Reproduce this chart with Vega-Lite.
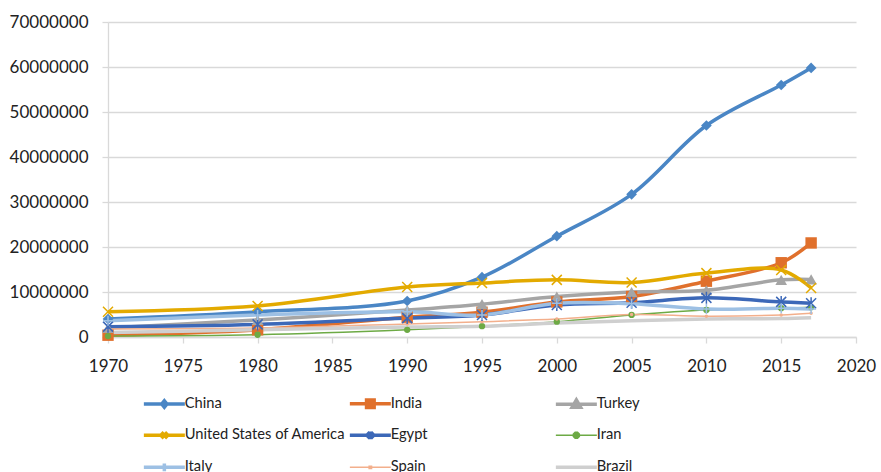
{
  "$schema": "https://vega.github.io/schema/vega-lite/v6.json",
  "width": 748,
  "height": 315,
  "autosize": {"type": "none"},
  "padding": {"left": 108, "top": 22, "right": 25, "bottom": 135},
  "background": "white",
  "config": {
    "view": {"stroke": null},
    "font": "Lato",
    "axis": {"labelFont": "Lato", "labelFontSize": 17, "labelColor": "#222222", "title": null}
  },
  "data": {"values": [
    {"country": "China", "year": 1970, "value": 4000000},
    {"country": "China", "year": 1980, "value": 5600000},
    {"country": "China", "year": 1990, "value": 8000000},
    {"country": "China", "year": 1995, "value": 13300000},
    {"country": "China", "year": 2000, "value": 22400000},
    {"country": "China", "year": 2005, "value": 31700000},
    {"country": "China", "year": 2010, "value": 47000000},
    {"country": "China", "year": 2015, "value": 56000000},
    {"country": "China", "year": 2017, "value": 59800000},
    {"country": "India", "year": 1970, "value": 400000},
    {"country": "India", "year": 1980, "value": 1600000},
    {"country": "India", "year": 1990, "value": 4400000},
    {"country": "India", "year": 1995, "value": 5500000},
    {"country": "India", "year": 2000, "value": 7800000},
    {"country": "India", "year": 2005, "value": 9000000},
    {"country": "India", "year": 2010, "value": 12400000},
    {"country": "India", "year": 2015, "value": 16500000},
    {"country": "India", "year": 2017, "value": 20900000},
    {"country": "Turkey", "year": 1970, "value": 2000000},
    {"country": "Turkey", "year": 1980, "value": 3800000},
    {"country": "Turkey", "year": 1990, "value": 6000000},
    {"country": "Turkey", "year": 1995, "value": 7300000},
    {"country": "Turkey", "year": 2000, "value": 9000000},
    {"country": "Turkey", "year": 2005, "value": 10000000},
    {"country": "Turkey", "year": 2010, "value": 10400000},
    {"country": "Turkey", "year": 2015, "value": 12700000},
    {"country": "Turkey", "year": 2017, "value": 12800000},
    {"country": "United States of America", "year": 1970, "value": 5600000},
    {"country": "United States of America", "year": 1980, "value": 6900000},
    {"country": "United States of America", "year": 1990, "value": 11100000},
    {"country": "United States of America", "year": 1995, "value": 12000000},
    {"country": "United States of America", "year": 2000, "value": 12700000},
    {"country": "United States of America", "year": 2005, "value": 12100000},
    {"country": "United States of America", "year": 2010, "value": 14200000},
    {"country": "United States of America", "year": 2015, "value": 14900000},
    {"country": "United States of America", "year": 2017, "value": 10900000},
    {"country": "Egypt", "year": 1970, "value": 2300000},
    {"country": "Egypt", "year": 1980, "value": 2800000},
    {"country": "Egypt", "year": 1990, "value": 4200000},
    {"country": "Egypt", "year": 1995, "value": 4900000},
    {"country": "Egypt", "year": 2000, "value": 7100000},
    {"country": "Egypt", "year": 2005, "value": 7600000},
    {"country": "Egypt", "year": 2010, "value": 8700000},
    {"country": "Egypt", "year": 2015, "value": 7800000},
    {"country": "Egypt", "year": 2017, "value": 7500000},
    {"country": "Iran", "year": 1970, "value": 200000},
    {"country": "Iran", "year": 1980, "value": 500000},
    {"country": "Iran", "year": 1990, "value": 1600000},
    {"country": "Iran", "year": 1995, "value": 2400000},
    {"country": "Iran", "year": 2000, "value": 3400000},
    {"country": "Iran", "year": 2005, "value": 4900000},
    {"country": "Iran", "year": 2010, "value": 6000000},
    {"country": "Iran", "year": 2015, "value": 6400000},
    {"country": "Iran", "year": 2017, "value": 6600000},
    {"country": "Italy", "year": 1970, "value": 3600000},
    {"country": "Italy", "year": 1980, "value": 4900000},
    {"country": "Italy", "year": 1990, "value": 5600000},
    {"country": "Italy", "year": 1995, "value": 4900000},
    {"country": "Italy", "year": 2000, "value": 7500000},
    {"country": "Italy", "year": 2005, "value": 7400000},
    {"country": "Italy", "year": 2010, "value": 6200000},
    {"country": "Italy", "year": 2015, "value": 6400000},
    {"country": "Italy", "year": 2017, "value": 6200000},
    {"country": "Spain", "year": 1970, "value": 1800000},
    {"country": "Spain", "year": 1980, "value": 2000000},
    {"country": "Spain", "year": 1990, "value": 2900000},
    {"country": "Spain", "year": 1995, "value": 3400000},
    {"country": "Spain", "year": 2000, "value": 4000000},
    {"country": "Spain", "year": 2005, "value": 5000000},
    {"country": "Spain", "year": 2010, "value": 4600000},
    {"country": "Spain", "year": 2015, "value": 4900000},
    {"country": "Spain", "year": 2017, "value": 5300000},
    {"country": "Brazil", "year": 1970, "value": 1000000},
    {"country": "Brazil", "year": 1980, "value": 1600000},
    {"country": "Brazil", "year": 1990, "value": 2200000},
    {"country": "Brazil", "year": 1995, "value": 2400000},
    {"country": "Brazil", "year": 2000, "value": 3100000},
    {"country": "Brazil", "year": 2005, "value": 3600000},
    {"country": "Brazil", "year": 2010, "value": 4000000},
    {"country": "Brazil", "year": 2015, "value": 4100000},
    {"country": "Brazil", "year": 2017, "value": 4300000}
  ]},
  "encoding": {
    "x": {
      "field": "year", "type": "quantitative",
      "scale": {"domain": [1970, 2020], "nice": false, "zero": false},
      "axis": {
        "values": [1970, 1975, 1980, 1985, 1990, 1995, 2000, 2005, 2010, 2015, 2020],
        "format": "d", "grid": false, "domainColor": "#D9D9D9", "domainWidth": 1.3,
        "tickColor": "#D9D9D9", "tickSize": 6, "tickWidth": 1.3, "labelPadding": 15, "labelFlush": false
      }
    },
    "y": {
      "field": "value", "type": "quantitative",
      "scale": {"domain": [0, 70000000], "nice": false},
      "axis": {
        "values": [0, 10000000, 20000000, 30000000, 40000000, 50000000, 60000000, 70000000],
        "format": "d", "grid": true, "gridColor": "#D9D9D9", "gridWidth": 1.3,
        "domainColor": "#D9D9D9", "domainWidth": 1.3, "tickColor": "#D9D9D9", "tickSize": 6, "tickWidth": 1.3,
        "labelPadding": 14
      }
    },
    "color": {
      "field": "country", "type": "nominal",
      "scale": {
        "domain": ["China", "India", "Turkey", "United States of America", "Egypt", "Iran", "Italy", "Spain", "Brazil"],
        "range": ["#4A86C5", "#E0702C", "#A5A5A5", "#E3AA00", "#3C68B8", "#6DAA45", "#9DC0E4", "#F3AF8C", "#CFCFCF"]
      }
    }
  },
  "layer": [
    {
      "mark": {"type": "line", "interpolate": "catmull-rom"},
      "encoding": {
        "strokeWidth": {"condition": {"test": "datum.country === 'Iran' || datum.country === 'Spain'", "value": 1.5}, "value": 3.5},
        "color": {
          "field": "country", "type": "nominal",
          "legend": {
            "orient": "none", "legendX": 49, "legendY": 374, "title": null, "direction": "horizontal",
            "columns": 3, "gridAlign": "all", "columnPadding": -4, "rowPadding": 9,
            "symbolSize": 400, "labelOffset": 13, "labelFont": "Lato", "labelFontSize": 14.7,
            "labelColor": "#222222", "labelLimit": 400, "padding": 0,
            "encode": {
              "symbols": {
                "update": {
                  "shape": {"signal": "datum.value === 'China' ? 'M-2.05,0L2.05,0M0,-0.32L0.26,0L0,0.32L-0.26,0Z' : datum.value === 'India' ? 'M-2.05,0L2.05,0M-0.38,-0.38L0.38,-0.38L0.38,0.38L-0.38,0.38Z' : datum.value === 'Turkey' ? 'M-2.05,0L2.05,0M0,-0.42L0.42,0.3L-0.42,0.3Z' : datum.value === 'United States of America' ? 'M-2.05,0L2.05,0M-0.3,-0.3L0.3,0.3M-0.3,0.3L0.3,-0.3' : datum.value === 'Egypt' ? 'M-2.05,0L2.05,0M-0.3,-0.3L0.3,0.3M-0.3,0.3L0.3,-0.3M0,-0.38L0,0.38' : datum.value === 'Iran' ? 'M-2.05,0L2.05,0M-0.12,-0.3L0.12,-0.3L0.3,-0.12L0.3,0.12L0.12,0.3L-0.12,0.3L-0.3,0.12L-0.3,-0.12Z' : datum.value === 'Italy' ? 'M-2.05,0L2.05,0M0,-0.38L0,0.38' : datum.value === 'Spain' ? 'M-2.05,0L2.05,0M-0.12,-0.12L0.12,-0.12L0.12,0.12L-0.12,0.12Z' : 'M-2.05,0L2.05,0'"},
                  "strokeWidth": {"signal": "datum.value === 'Iran' || datum.value === 'Spain' ? 1.5 : 3.5"},
                  "fill": {"scale": "color", "field": "value"},
                  "stroke": {"scale": "color", "field": "value"},
                  "opacity": {"value": 1}
                }
              }
            }
          }
        }
      }
    },
    {
      "transform": [{"filter": "indexof(['China','India','Turkey','Iran','Spain'], datum.country) >= 0"}],
      "mark": {"type": "point", "filled": true, "opacity": 1},
      "encoding": {
        "color": {"field": "country", "type": "nominal", "legend": null},
        "shape": {
          "condition": [
            {"test": "datum.country === 'China'", "value": "diamond"},
            {"test": "datum.country === 'India'", "value": "square"},
            {"test": "datum.country === 'Turkey'", "value": "triangle-up"}
          ],
          "value": "circle"
        },
        "size": {
          "condition": [
            {"test": "datum.country === 'China'", "value": 115},
            {"test": "datum.country === 'India'", "value": 130},
            {"test": "datum.country === 'Turkey'", "value": 135},
            {"test": "datum.country === 'Iran'", "value": 40}
          ],
          "value": 12
        }
      }
    },
    {
      "transform": [{"filter": "indexof(['United States of America','Egypt','Italy'], datum.country) >= 0"}],
      "mark": {"type": "point", "filled": false, "opacity": 1, "strokeWidth": 1.5},
      "encoding": {
        "color": {"field": "country", "type": "nominal", "legend": null},
        "shape": {
          "condition": [
            {"test": "datum.country === 'United States of America'", "value": "M-1,-1L1,1M-1,1L1,-1"},
            {"test": "datum.country === 'Egypt'", "value": "M-1,-1L1,1M-1,1L1,-1M0,-1.2L0,1.2"}
          ],
          "value": "M-1,0L1,0M0,-1L0,1"
        },
        "size": {"value": 100}
      }
    }
  ]
}
